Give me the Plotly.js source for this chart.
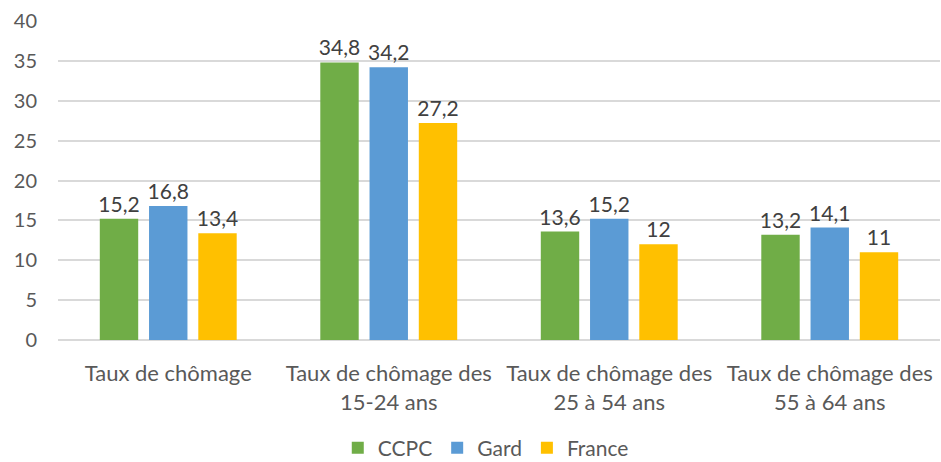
<!DOCTYPE html>
<html>
<head>
<meta charset="utf-8">
<script src="https://cdn.plot.ly/plotly-3.0.1.min.js"></script>
<style>html,body{margin:0;padding:0;background:#fff;}#chart{width:941px;height:462px;}</style>
</head>
<body>
<div id="chart"></div>
<script>
const categories = ["Taux de chômage", "Taux de chômage des<br>15-24 ans", "Taux de chômage des<br>25 à 54 ans", "Taux de chômage des<br>55 à 64 ans"];
const seriesNames = ["CCPC", "Gard", "France"];
const ccpc = [15.2, 34.8, 13.6, 13.2];
const gard = [16.8, 34.2, 15.2, 14.1];
const france = [13.4, 27.2, 12, 11];
const colors = ["#70AD47", "#5B9BD5", "#FFC000"];
const yTicks = [0, 5, 10, 15, 20, 25, 30, 35, 40];

const font = "Lato, Open Sans, sans-serif";
const fmt = v => String(v).replace('.', ',');
const traces = [ccpc, gard, france].map((vals, i) => ({
  type: 'bar',
  name: seriesNames[i],
  x: categories,
  y: vals,
  text: vals.map(fmt),
  textposition: 'outside',
  constraintext: 'none',
  textfont: {family: font, size: 21, color: '#404040'},
  cliponaxis: false,
  marker: {color: colors[i]},
  hoverinfo: 'none'
}));

Plotly.newPlot('chart', traces, {
  width: 941, height: 462,
  margin: {l: 58, r: 1, t: 21, b: 122, autoexpand: false},
  paper_bgcolor: '#fff', plot_bgcolor: '#fff',
  barmode: 'group',
  bargap: 0.33,
  bargroupgap: 0.22,
  font: {family: font, size: 20, color: '#595959'},
  xaxis: {automargin: false, tickfont: {size: 22, color: '#595959'}, showline: false, ticks: '', showgrid: false, zeroline: false, ticklabelstandoff: 18},
  yaxis: {automargin: false, range: [0, 40], tickvals: yTicks, showgrid: true, gridcolor: '#D9D9D9', gridwidth: 2, zeroline: true, zerolinecolor: '#D9D9D9', zerolinewidth: 2, ticks: '', tickfont: {size: 20, color: '#595959'}, ticklabelstandoff: 20},
  showlegend: true,
  legend: {orientation: 'h', x: 0.485, xanchor: 'center', xref: 'paper', yref: 'container', y: 0.03, yanchor: 'middle', font: {size: 21, color: '#595959'}, itemwidth: 30, traceorder: 'normal'}
}, {displayModeBar: false, staticPlot: true});
</script>
</body>
</html>
